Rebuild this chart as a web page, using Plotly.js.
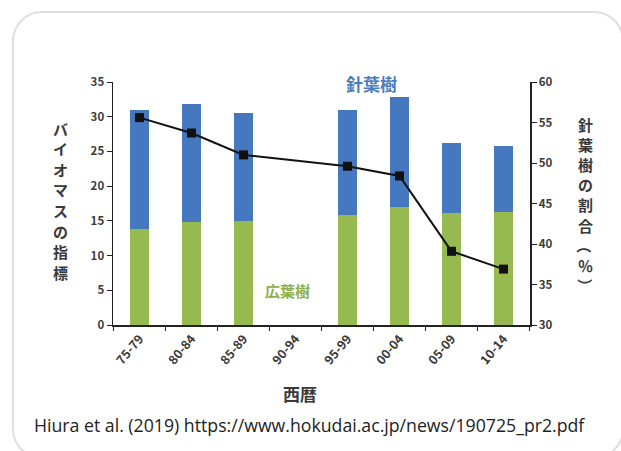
<!DOCTYPE html>
<html><head><meta charset="utf-8">
<script src="https://cdn.plot.ly/plotly-3.0.1.min.js"></script>
<style>
html,body{margin:0;padding:0;background:#fff;width:621px;height:451px;overflow:hidden;}
#card{position:absolute;left:12px;top:11px;width:612px;height:448px;border:2px solid #dedede;border-radius:30px;box-sizing:border-box;}
#chart{position:absolute;left:0;top:0;width:621px;height:451px;}
</style></head>
<body>
<div id="card"></div>
<div id="chart"></div>
<script>
const periods = ['75-79','80-84','85-89','90-94','95-99','00-04','05-09','10-14'];
const broadleaf = [13.8, 14.8, 15.0, null, 15.8, 17.0, 16.1, 16.3];
const conifer = [17.2, 17.0, 15.5, null, 15.2, 15.9, 10.1, 9.5];
const coniferShare = [55.6, 53.7, 51.0, null, 49.6, 48.4, 39.1, 36.9];

const jp = '"Noto Sans CJK JP", "Noto Sans", sans-serif';
const dark = '#3a3a3a';

const traces = [
  {type:'bar', x:periods, y:broadleaf, marker:{color:'#96ba50'}, yaxis:'y', name:'広葉樹'},
  {type:'bar', x:periods, y:conifer, marker:{color:'#4678bf'}, yaxis:'y', name:'針葉樹'},
  {type:'scatter', mode:'lines+markers', x:periods, y:coniferShare, yaxis:'y2', connectgaps:true,
   line:{color:'#111', width:2}, marker:{symbol:'square', size:9, color:'#111'}, name:'割合'}
];

// pixel -> paper helpers (plot area: x 113..530, y 82..325)
const px = x => (x - 113) / 417;
const py = y => (325 - y) / 243;

const annotations = [];
function vchars(str, x, yStart, step, size, rotateSet) {
  Array.from(str).forEach((ch, i) => {
    annotations.push({text:ch, xref:'paper', yref:'paper', x:px(x), y:py(yStart + i * step),
      xanchor:'center', yanchor:'middle', showarrow:false, borderpad:0,
      textangle:(rotateSet && rotateSet.includes(ch)) ? 90 : 0,
      font:{family:jp, size:size, color:dark, weight:'bold'}});
  });
}
vchars('バイオマスの指標', 60, 128, 20.6, 15);
vchars('針葉樹の割合（％）', 585, 124, 20.2, 15, ['（','）']);

annotations.push(
  {text:'西暦', xref:'paper', yref:'paper', x:px(300), y:py(393), xanchor:'center', yanchor:'middle',
   showarrow:false, font:{family:jp, size:17, color:dark, weight:'bold'}},
  {text:'針葉樹', xref:'paper', yref:'paper', x:px(371), y:py(83), xanchor:'center', yanchor:'middle',
   showarrow:false, font:{family:jp, size:17, color:'#4a7cc0', weight:'bold'}},
  {text:'広葉樹', xref:'paper', yref:'paper', x:px(287), y:py(290), xanchor:'center', yanchor:'middle',
   showarrow:false, font:{family:jp, size:15, color:'#8db050', weight:'bold'}},
  {text:'Hiura et al. (2019) https://www.hokudai.ac.jp/news/190725_pr2.pdf', xref:'paper', yref:'paper',
   x:px(309), y:py(425), xanchor:'center', yanchor:'middle', showarrow:false,
   font:{family:'"Open Sans", sans-serif', size:17.7, color:'#222'}}
);

const layout = {
  width:621, height:451,
  margin:{l:113, r:91, t:82, b:126},
  paper_bgcolor:'rgba(0,0,0,0)', plot_bgcolor:'rgba(0,0,0,0)',
  barmode:'stack', bargap:0.63, showlegend:false,
  font:{family:jp, color:dark},
  xaxis:{type:'category', showgrid:false, showline:true, linecolor:'#222', linewidth:1.5,
    ticks:'outside', tickson:'boundaries', ticklen:4, tickcolor:'#222', tickangle:-50,
    tickfont:{family:jp, size:12.5, color:dark, weight:'bold'}, zeroline:false},
  yaxis:{range:[0,35], dtick:5, showgrid:false, zeroline:false, showline:true, linecolor:'#222', linewidth:1.5,
    ticks:'outside', ticklen:5, tickcolor:'#222', tickfont:{family:jp, size:11.5, color:dark, weight:'bold'}},
  yaxis2:{range:[30,60], dtick:5, overlaying:'y', side:'right', showgrid:false, zeroline:false,
    showline:true, linecolor:'#222', linewidth:1.5, ticks:'outside', ticklen:5, tickcolor:'#222',
    tickfont:{family:jp, size:11.5, color:dark, weight:'bold'}},
  annotations:annotations
};
Plotly.newPlot('chart', traces, layout, {displayModeBar:false, staticPlot:true});
</script>
</body></html>
